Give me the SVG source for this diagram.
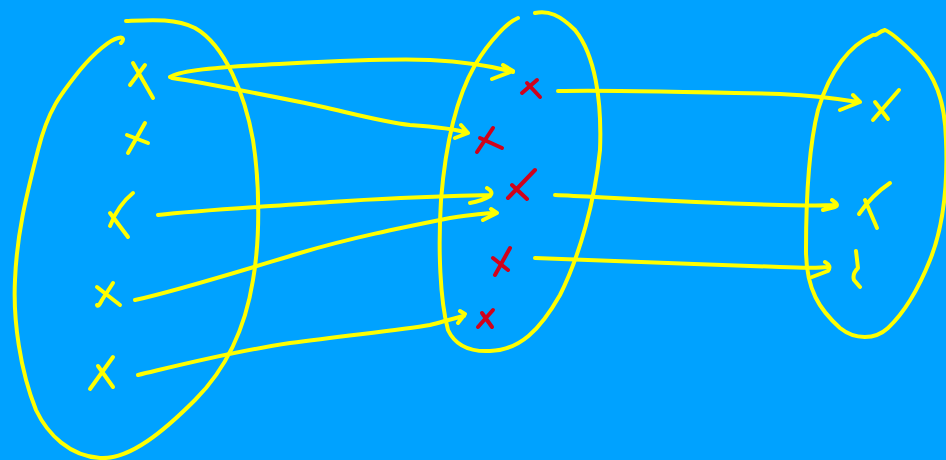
<svg xmlns="http://www.w3.org/2000/svg" width="946" height="460" viewBox="0 0 946 460">
<style>
.y{fill:none;stroke:#FFFF00;stroke-width:4;stroke-linecap:round;stroke-linejoin:round}
.r{fill:none;stroke:#D0021B;stroke-width:4;stroke-linecap:round;stroke-linejoin:round}
</style>
<rect width="946" height="460" fill="#00A2FF"/>
<g id="set-left">
<path class="y" d="M126,21 C150,20 175,18 195,28 C225,45 245,95 253,140 C260,185 260,240 253,280 C245,330 225,370 195,400 C165,430 130,460 100,458 C70,456 48,435 36,410 C20,370 13,320 15,280 C17,230 28,190 38,150 C48,110 60,95 80,70 C95,52 110,40 118,38 C124,36 124,40 121,43"/>
</g>
<g id="set-middle">
<path class="y" d="M518,18 C508,22 490,40 475,65 C455,100 445,150 441,200 C438,250 440,300 448,330 C455,345 470,352 490,351 C520,350 540,330 560,295 C580,255 595,200 600,150 C602,100 595,55 575,30 C560,15 548,10 535,13"/>
</g>
<g id="set-right">
<path class="y" d="M873,35 C850,45 830,70 818,110 C808,150 806,200 806,250 C806,290 820,310 840,328 C855,340 875,340 888,328 C905,312 920,285 930,260 C942,230 948,190 946,140 C945,100 935,75 915,55 C900,40 890,32 885,30 C878,32 878,35 875,35"/>
</g>
<g id="a1"><path class="y" d="M133,63 L153,98 M145,65 L130,85"/></g>
<g id="a2"><path class="y" d="M145,123 L128,153 M127,135 L148,143"/></g>
<g id="a3"><path class="y" d="M133,193 Q118,205 110,226 M110,213 L128,237"/></g>
<g id="a4"><path class="y" d="M113,283 L102,300 Q98,308 97,305 M97,287 L120,305"/></g>
<g id="a5"><path class="y" d="M113,357 L90,389 M98,366 L113,387"/></g>
<g id="b1"><path class="r" d="M537,80 L522,93 M527,83 L540,97"/></g>
<g id="b2"><path class="r" d="M493,128 L477,152 M480,138 L502,148"/></g>
<g id="b3"><path class="r" d="M535,170 L508,198 M512,185 L527,199"/></g>
<g id="b4"><path class="r" d="M510,248 L495,275 M493,258 L508,270"/></g>
<g id="b5"><path class="r" d="M493,310 L478,327 M482,313 L492,327"/></g>
<g id="c1"><path class="y" d="M899,90 L873,120 M875,102 L888,119"/></g>
<g id="c2"><path class="y" d="M890,183 Q872,195 859,214 M865,200 L877,228"/></g>
<g id="c3"><path class="y" d="M856,251 L858,268 Q852,274 854,280 L860,287"/></g>
<g id="connectors">
<path class="y" d="M170,77 C180,70 220,67 260,65 C320,62 380,58 430,60 C470,62 495,67 513,72 M503,65 L513,71 L492,79"/>
<path class="y" d="M172,78 C200,82 250,92 300,102 C340,110 380,122 410,125 C440,127 455,129 468,133 M461,125 L468,133 L455,138"/>
<path class="y" d="M158,215 C200,210 260,207 330,202 C400,197 450,196 490,195 M487,188 Q494,192 490,196 Q482,201 470,203"/>
<path class="y" d="M135,300 C180,290 250,268 300,253 C350,238 400,228 450,218 C470,215 485,213 495,213 M491,209 L497,213 L483,220"/>
<path class="y" d="M138,375 C180,365 230,352 290,343 C350,335 400,330 430,325 C445,321 455,318 464,316 M460,311 L465,314 L458,323"/>
<path class="y" d="M558,91 C600,90 700,92 780,94 C820,96 840,99 858,102 M853,95 L860,102 L840,110"/>
<path class="y" d="M555,195 C600,197 700,203 780,205 C810,206 825,205 837,205 M832,200 Q840,205 835,207 L823,210"/>
<path class="y" d="M535,258 C600,261 700,264 780,267 C805,268 820,268 828,267 M825,262 Q832,266 828,271 L812,277"/>
</g>
</svg>
